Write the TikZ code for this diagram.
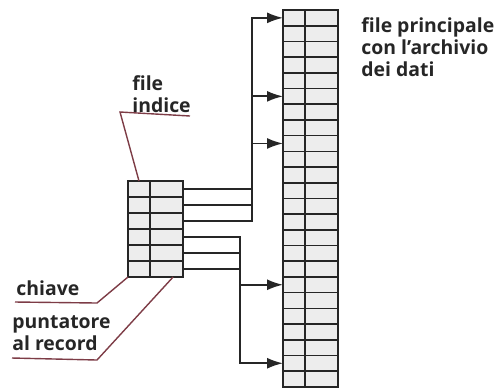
\documentclass[tikz,border=0pt]{standalone}
\usepackage{fontspec}
\setsansfont{Open Sans}
\usetikzlibrary{arrows.meta,calc}
\definecolor{leadred}{RGB}{125,60,70}
\tikzset{
  flowarrow/.style={-{Latex[length=8pt,width=5.5pt]}, line width=0.9pt, draw=black!85},
  keycell/.style={draw=black!85, line width=0.8pt, fill=gray!14, minimum width=11pt, minimum height=7.85pt, inner sep=0pt, outer sep=0pt},
  ptrcell/.style={keycell, minimum width=16.5pt},
  link/.style={line width=0.9pt, draw=black!85, line cap=rect},
  leader/.style={draw=leadred, line width=0.7pt},
  lbl/.style={font=\sffamily\bfseries\fontsize{9.7}{11}\selectfont, align=left, inner sep=0pt, text=black!85}
}

\begin{document}
\begin{tikzpicture}[x=0.5pt, y=-0.5pt]
  \useasboundingbox (0,0) rectangle (496,387);
  % main file
  \foreach \r in {0,...,23} {
    \node[keycell] (mk\r) at (294, 17.85+15.7*\r) {};
    \node[ptrcell] (mp\r) at (321.5, 17.85+15.7*\r) {};
  }
  % index file
  \foreach \r in {0,...,5} {
    \node[keycell, minimum height=8pt] (ik\r) at (139, 189+16*\r) {};
    \node[ptrcell, minimum height=8pt] (ip\r) at (166.5, 189+16*\r) {};
  }
  % pointers
  \coordinate (busup) at (252,0);
  \coordinate (buslow) at (240,0);
  \foreach \r in {0,1,2}
    \draw[link] (ip\r.east) -- (ip\r.east -| busup);
  \draw[link] (mk0.west -| busup) -- (ip2.east -| busup);
  \foreach \r in {0,5,8}
    \draw[flowarrow] (mk\r.west -| busup) -- (mk\r.west);
  \foreach \r in {3,4,5}
    \draw[link] (ip\r.east) -- (ip\r.east -| buslow);
  \draw[link] (ip3.east -| buslow) -- (mk22.west -| buslow);
  \foreach \r in {17,22}
    \draw[flowarrow] (mk\r.west -| buslow) -- (mk\r.west);
  % labels
  \node[lbl, anchor=north west] (mainlbl) at (361,17) {file principale\\con l'archivio\\dei dati};
  \node[lbl, anchor=north west] (idxlbl) at (132,75) {file\\indice};
  \node[lbl, anchor=base west] (keylbl) at (16,295) {chiave};
  \node[lbl, anchor=north west] (ptrlbl) at (12,315) {puntatore\\al record};
  \coordinate (idxend) at (190,116);
  \coordinate (idxelb) at (120,112);
  \coordinate (keystart) at (15,302);
  \coordinate (keyelb) at (97,303);
  \coordinate (ptrstart) at (12,358);
  \coordinate (ptrelb) at (97,360);
  \draw[leader] (idxend) -- (idxelb) -- (ik0.north);
  \draw[leader] (keystart) -- (keyelb) -- (ik5.south west);
  \draw[leader] (ptrstart) -- (ptrelb) -- ($(ip5.south)!0.4!(ip5.south east)$);
\end{tikzpicture}
\end{document}
